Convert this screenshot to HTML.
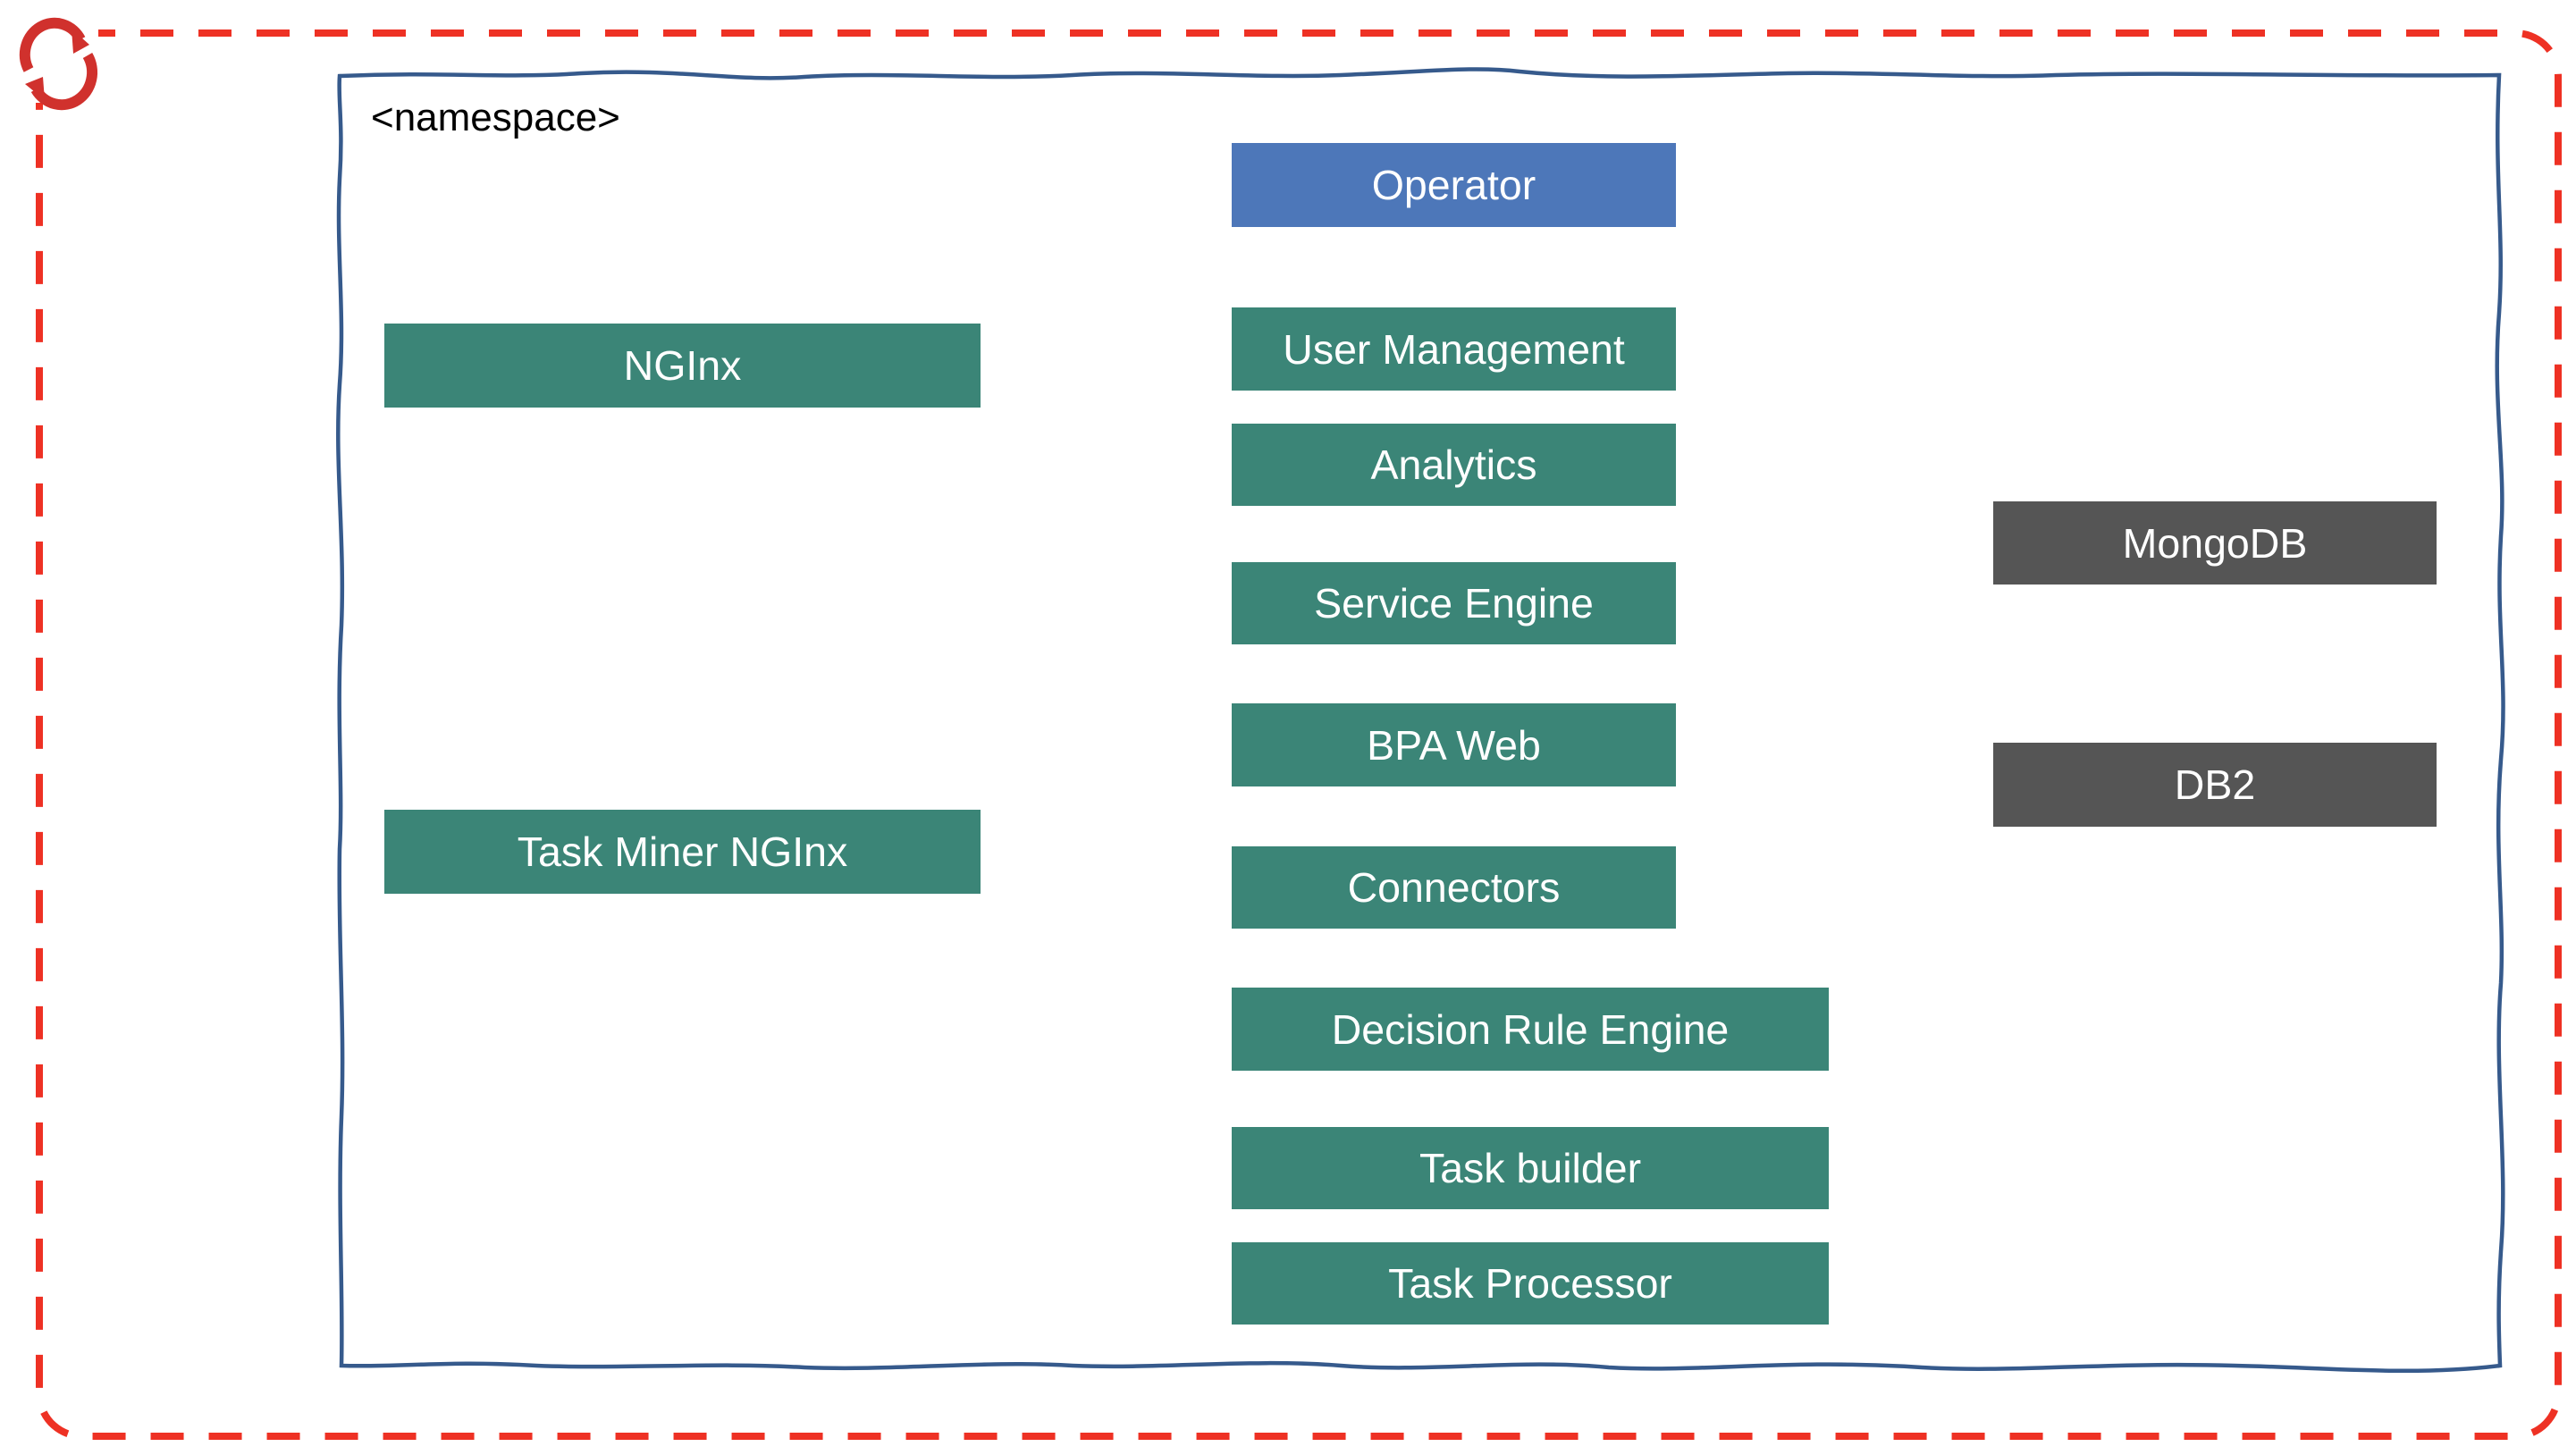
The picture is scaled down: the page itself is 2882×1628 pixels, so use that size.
<!DOCTYPE html>
<html><head><meta charset="utf-8"><style>
html,body{margin:0;padding:0;background:#fff}
body{width:2882px;height:1628px;position:relative;overflow:hidden;font-family:"Liberation Sans",sans-serif}
.b{position:absolute;color:#fff;font-size:46.5px;display:flex;align-items:center;justify-content:center;background:#3b8577}
</style></head><body>
<svg width="2882" height="1628" style="position:absolute;left:0;top:0">
<rect x="44" y="37" width="2818" height="1570" rx="48" ry="48" fill="none" stroke="#ee3124" stroke-width="8" stroke-dasharray="37 28"/>
<rect x="20" y="20" width="90" height="95" fill="#fff"/>
<path d="M380,85 C500,80 560,88 650,82 C760,76 820,92 900,86 C1000,80 1100,90 1200,84 C1300,78 1400,88 1500,84 C1600,80 1650,74 1700,80 C1800,90 1900,84 2000,82 C2100,80 2200,88 2300,84 C2450,80 2600,86 2796,84 C2790,200 2802,260 2796,350 C2788,450 2804,520 2798,600 C2792,700 2806,760 2798,850 C2790,950 2802,1020 2798,1100 C2790,1200 2806,1300 2798,1400 C2794,1460 2796,1500 2797,1528 C2700,1540 2600,1530 2500,1528 C2350,1524 2250,1536 2150,1530 C2000,1520 1900,1536 1800,1530 C1700,1520 1600,1536 1500,1528 C1400,1520 1300,1532 1200,1528 C1100,1522 1000,1534 900,1530 C800,1524 700,1532 600,1528 C500,1522 450,1530 382,1528 C384,1450 378,1350 382,1250 C386,1150 378,1050 380,950 C384,880 376,800 382,700 C386,600 374,520 380,430 C386,350 376,280 380,200 C384,140 378,110 380,85 Z" fill="none" stroke="#365a8c" stroke-width="4.5"/>
<g fill="none" stroke="#d0312d" stroke-width="12">
<path d="M32,78 A32,34 0 0 1 90,44"/>
<path d="M98,62 A32,34 0 0 1 40,100"/>
</g>
<path d="M80,32 L100,50 L82,60 Z" fill="#d0312d"/>
<path d="M50,112 L28,94 L48,86 Z" fill="#d0312d"/>
<text x="415" y="146" font-size="44" font-family="Liberation Sans, sans-serif" fill="#000">&lt;namespace&gt;</text>
</svg>
<div class="b" style="left:1378px;top:160px;width:497px;height:94px;background:#4d77b9">Operator</div>
<div class="b" style="left:1378px;top:344px;width:497px;height:93px">User Management</div>
<div class="b" style="left:1378px;top:474px;width:497px;height:92px">Analytics</div>
<div class="b" style="left:1378px;top:629px;width:497px;height:92px">Service Engine</div>
<div class="b" style="left:1378px;top:787px;width:497px;height:93px">BPA Web</div>
<div class="b" style="left:1378px;top:947px;width:497px;height:92px">Connectors</div>
<div class="b" style="left:1378px;top:1105px;width:668px;height:93px">Decision Rule Engine</div>
<div class="b" style="left:1378px;top:1261px;width:668px;height:92px">Task builder</div>
<div class="b" style="left:1378px;top:1390px;width:668px;height:92px">Task Processor</div>
<div class="b" style="left:430px;top:362px;width:667px;height:94px">NGInx</div>
<div class="b" style="left:430px;top:906px;width:667px;height:94px">Task Miner NGInx</div>
<div class="b" style="left:2230px;top:561px;width:496px;height:93px;background:#555555">MongoDB</div>
<div class="b" style="left:2230px;top:831px;width:496px;height:94px;background:#555555">DB2</div>
</body></html>
